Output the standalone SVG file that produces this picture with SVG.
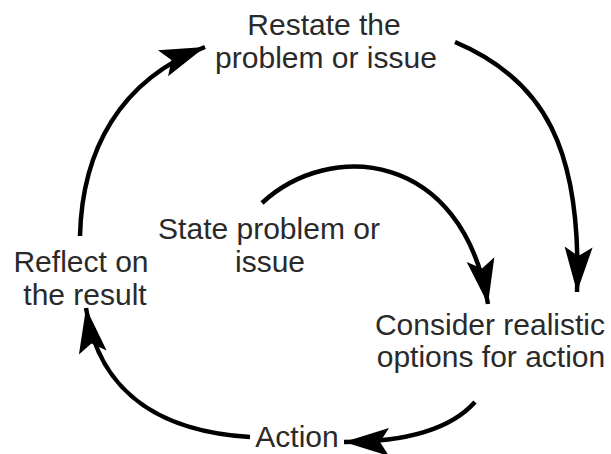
<svg xmlns="http://www.w3.org/2000/svg" width="611" height="454" viewBox="0 0 611 454">
<style>
.t{font-family:"Liberation Sans",Arial,sans-serif;font-size:30px;fill:#2a2a2a;text-anchor:middle}
.c{fill:none;stroke:#000;stroke-width:4.5;marker-end:url(#ah)}
</style>
<defs>
<marker id="ah" markerUnits="userSpaceOnUse" viewBox="-48 -16 50 32" refX="0" refY="0" markerWidth="50" markerHeight="32" orient="auto">
<path d="M0,0 L-45,-14 L-36,0 L-45,14 Z" fill="#000"/>
</marker>
</defs>
<rect width="611" height="454" fill="#fff"/>
<g id="connectors">
<path class="c" d="M80,236 C82,150 120,80 205,47"/>
<path class="c" d="M455,42 C545,80 582,150 577,292"/>
<path class="c" d="M262,203 C330,140 462,150 488,304"/>
<path class="c" d="M475,402 C450,430 405,442 344,442"/>
<path class="c" d="M250,437 C170,432 100,400 86,308"/>
</g>
<g id="restate"><text class="t" x="324" y="35">Restate the</text><text class="t" x="326" y="68">problem or issue</text></g>
<g id="state"><text class="t" x="269" y="239">State problem or</text><text class="t" x="270" y="272">issue</text></g>
<g id="reflect"><text class="t" x="81" y="272">Reflect on</text><text class="t" x="85" y="305">the result</text></g>
<g id="consider"><text class="t" x="490" y="335">Consider realistic</text><text class="t" x="491" y="367">options for action</text></g>
<g id="action"><text class="t" x="297" y="447">Action</text></g>
</svg>
